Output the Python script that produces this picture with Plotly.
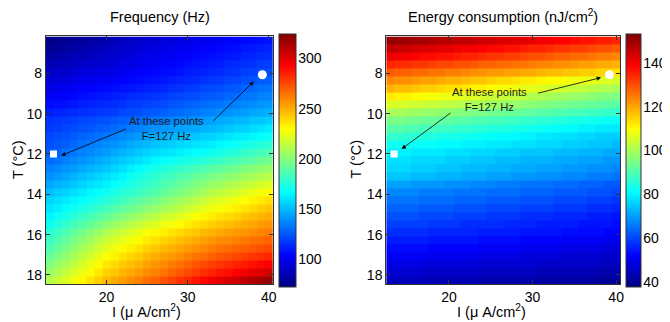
import plotly.graph_objects as go

# ---------------- data ----------------
I_vals = list(range(13, 41))  # current density, uA/cm^2 (28 columns)
T_vals = [6.37, 6.77, 7.16, 7.56, 7.96, 8.35, 8.75, 9.15, 9.54, 9.94, 10.34,
          10.73, 11.13, 11.53, 11.92, 12.32, 12.72, 13.11, 13.51, 13.91, 14.30,
          14.70, 15.10, 15.49, 15.89, 16.29, 16.68, 17.08, 17.48, 17.87, 18.27]

freq = [
    [76,78,79,81,82,84,85,87, 89,90,92,93,95,96, 97,98,99,100,101,102,103, 104,105,106,107,108,109,110],
    [80,81,83,84,86,87,89,90, 92,93,95,96,98,99, 100,101,102,103,104,105,106, 107,108,109,111,112,113,114],
    [84,85,87,88,89,90,92,93, 95,96,98,99,101,102, 103,104,105,106,107,108,109, 110,111,112,114,115,116,117],
    [88,89,90,91,93,94,95,96, 97,99,100,101,103,104, 105,106,107,109,110,111,112, 113,115,116,117,118,120,121],
    [92,93,94,95,97,98,99,100, 101,102,104,105,106,107, 108,109,110,112,113,114,115, 116,118,119,121,122,124,125],
    [96,97,98,99,101,102,103,104, 105,106,107,108,109,110, 111,113,114,115,116,118,119, 120,122,123,125,126,128,129],
    [100,101,102,103,105,106,107,108, 109,110,111,112,113,114, 115,117,118,120,121,123,124, 125,127,128,130,131,133,134],
    [104,105,106,107,109,110,111,112, 113,114,116,117,118,119, 120,122,123,124,125,127,128, 129,131,132,134,135,137,138],
    [108,109,110,111,113,114,115,116, 117,118,120,121,122,123, 124,126,127,129,130,132,133, 134,136,137,139,140,142,143],
    [113,114,115,116,117,118,119,120, 121,123,124,125,127,128, 129,131,132,134,135,137,138, 140,141,143,144,146,147,149],
    [118,119,120,121,123,124,125,126, 128,129,131,132,134,135, 136,138,139,141,142,144,145, 147,148,150,151,153,154,156],
    [120,121,123,124,126,127,129,130, 132,134,136,137,139,141, 142,144,145,146,147,149,150, 152,154,156,157,159,161,163],
    [123,125,126,128,130,132,133,135, 137,139,141,143,145,147, 148,150,151,153,154,156,157, 159,161,163,164,166,168,170],
    [125,127,129,131,134,136,138,140, 142,144,147,149,151,153, 155,156,158,159,161,162,164, 166,168,170,172,174,176,178],
    [128,130,133,135,137,139,142,144, 147,149,152,154,157,159, 161,162,164,166,168,169,171, 173,175,177,180,182,184,186],
    [132,134,137,139,142,144,147,149, 152,155,157,160,163,166, 168,170,172,173,175,177,179, 181,184,186,188,190,193,195],
    [137,139,142,144,147,149,152,154, 157,160,164,167,170,173, 175,178,180,182,184,187,189, 191,193,195,198,200,202,204],
    [141,144,146,149,152,155,157,160, 163,166,170,173,176,179, 182,184,187,189,192,194,197, 199,201,203,206,208,210,212],
    [146,149,151,154,157,160,162,165, 168,171,174,177,180,183, 186,189,192,195,198,201,204, 206,209,211,214,216,219,221],
    [152,155,157,160,163,166,168,171, 174,177,179,182,185,188, 191,195,198,201,204,208,211, 214,216,219,222,225,227,230],
    [157,160,163,166,168,171,174,177, 180,183,187,190,193,196, 199,203,206,209,212,216,219, 222,224,227,229,232,234,237],
    [161,164,168,171,174,177,181,184, 187,191,194,197,201,204, 207,210,213,217,220,223,226, 228,231,233,236,238,241,243],
    [166,170,173,177,181,185,188,192, 196,199,203,206,210,213, 216,219,222,225,228,231,234, 236,238,240,243,245,247,249],
    [171,175,180,184,188,192,197,201, 205,208,212,215,219,222, 225,227,230,233,236,238,241, 243,245,247,249,251,253,255],
    [177,182,186,191,196,201,205,210, 214,217,221,224,228,231, 233,236,238,241,243,246,248, 250,252,254,255,257,259,261],
    [182,187,192,197,202,207,212,217, 220,224,227,230,234,237, 240,242,245,247,250,252,255, 257,258,260,262,264,265,267],
    [187,192,197,202,208,213,218,223, 226,230,233,236,240,243, 246,248,251,253,256,258,261, 263,265,267,268,270,272,274],
    [193,198,203,208,214,219,224,229, 232,236,239,242,246,249, 252,254,257,260,263,265,268, 270,272,274,276,278,280,282],
    [199,204,209,214,220,225,230,235, 238,242,245,248,252,255, 258,261,264,267,270,273,276, 278,281,283,285,287,290,292],
    [205,210,215,220,225,230,235,240, 243,247,250,253,257,260, 263,267,270,273,276,280,283, 286,288,291,294,297,299,302],
    [211,216,221,226,231,236,241,246, 250,253,257,260,264,267, 271,275,279,282,286,290,294, 297,300,303,307,310,313,316],
]

energy = [
    [150,149,149,148,148,147,146,146,145,145,144,143,143,142,142,141,141,140,139,139,138,138,137,136,136,135,135,134],
    [145,144,144,143,142,142,141,141,140,139,139,138,137,137,136,136,135,134,134,133,132,132,131,131,130,129,129,128],
    [140,139,139,138,137,137,136,136,135,134,134,133,132,132,131,131,130,129,129,128,127,127,126,126,125,124,124,123],
    [134,133,133,132,132,131,130,130,129,129,128,127,127,126,126,125,125,124,123,123,122,122,121,120,120,119,119,118],
    [128,127,127,126,126,125,125,124,124,123,122,122,121,121,120,120,119,119,118,117,117,116,116,115,115,114,114,113],
    [123,122,122,121,120,120,119,118,118,117,116,116,115,114,114,113,112,112,111,110,110,109,108,108,107,106,106,105],
    [118,117,117,116,115,115,114,113,113,112,111,111,110,109,109,108,107,107,106,105,105,104,103,103,102,101,101,100],
    [112,111,111,110,109,109,108,108,107,106,106,105,104,104,103,103,102,101,101,100,99,99,98,98,97,96,96,95],
    [106,105,105,104,104,103,103,102,102,101,100,100,99,99,98,98,97,97,96,95,95,94,94,93,93,92,92,91],
    [100,100,99,99,98,98,97,97,96,96,95,95,94,94,93,93,92,92,91,91,90,90,89,89,88,88,87,87],
    [95,95,94,94,93,93,92,92,91,91,90,90,89,89,88,88,87,87,86,86,85,85,84,84,83,83,82,82],
    [91,91,90,90,89,89,88,88,87,87,86,86,85,85,85,84,84,83,83,82,82,81,81,80,80,79,79,79],
    [87,87,86,86,85,85,84,84,84,83,83,82,82,81,81,81,80,80,79,79,78,78,78,77,77,76,76,76],
    [83,83,83,82,82,82,81,81,81,80,80,80,79,79,79,78,78,78,77,77,77,76,76,76,75,75,75,74],
    [80,80,80,79,79,79,79,78,78,78,77,77,77,76,76,76,75,75,75,75,74,74,74,73,73,73,72,72],
    [78,78,78,77,77,77,77,76,76,76,75,75,75,74,74,74,73,73,73,73,72,72,72,71,71,71,70,70],
    [77,77,77,76,76,76,75,75,75,74,74,74,73,73,73,72,72,72,71,71,71,70,70,70,69,69,69,68],
    [75,75,75,74,74,74,73,73,73,72,72,72,71,71,71,70,70,70,69,69,69,68,68,68,67,67,67,66],
    [71,71,71,70,70,70,70,69,69,69,68,68,68,67,67,67,66,66,66,66,65,65,65,64,64,64,63,63],
    [68,68,68,68,67,67,67,67,66,66,66,66,65,65,65,65,64,64,64,64,63,63,63,63,62,62,62,61],
    [66,66,66,66,65,65,65,65,64,64,64,64,63,63,63,63,62,62,62,62,61,61,61,61,60,60,60,59],
    [64,64,64,64,63,63,63,63,62,62,62,62,61,61,61,61,60,60,60,60,59,59,59,59,58,58,58,57],
    [62,62,62,62,61,61,61,61,60,60,60,60,59,59,59,59,58,58,58,58,57,57,57,57,56,56,56,55],
    [60,60,60,60,60,59,59,59,59,58,58,58,58,58,57,57,57,57,56,56,56,56,56,55,55,55,55,54],
    [58,58,58,58,58,57,57,57,57,57,57,56,56,56,56,56,55,55,55,55,55,54,54,54,54,54,53,53],
    [56,56,56,56,56,55,55,55,55,55,55,54,54,54,54,54,53,53,53,53,53,52,52,52,52,52,51,51],
    [54,54,54,54,54,53,53,53,53,53,53,52,52,52,52,52,51,51,51,51,51,50,50,50,50,50,49,49],
    [52,52,52,52,52,51,51,51,51,51,51,50,50,50,50,50,49,49,49,49,49,48,48,48,48,48,47,47],
    [50,50,50,50,49,49,49,49,49,49,49,48,48,48,48,48,48,48,47,47,47,47,47,47,47,46,46,46],
    [48,48,48,48,47,47,47,47,47,47,47,46,46,46,46,46,46,46,45,45,45,45,45,45,45,44,44,44],
    [46,46,46,46,45,45,45,45,45,45,45,44,44,44,44,44,44,44,43,43,43,43,43,43,43,42,42,42],
]

freq_range = [75, 322]
energy_range = [39, 152]
freq_ticks = [100, 150, 200, 250, 300]
energy_ticks = [40, 60, 80, 100, 120, 140]
x_ticks = [20, 30, 40]
y_ticks = [8, 10, 12, 14, 16, 18]

# the two operating points with F = 127 Hz
square_I, square_T = [13.45], [12.0]
circle_I, circle_T = [39.2], [8.07]

# ---------------- styling ----------------
W, H = 670, 322
JET = [[0.0, 'rgb(0,0,128)'], [0.125, 'rgb(0,0,255)'], [0.375, 'rgb(0,255,255)'],
       [0.625, 'rgb(255,255,0)'], [0.875, 'rgb(255,0,0)'], [1.0, 'rgb(128,0,0)']]
FONT = 'Liberation Sans, Arial, Helvetica, sans-serif'
BOX = 'rgb(50,50,50)'

top_px, bot_px = 29, 281.7
ydom = [(H - bot_px) / H, (H - top_px) / H]
ymid = 1 - (top_px + bot_px) / 2 / H
x1dom = [38 / W, 266.5 / W]
x2dom = [380.5 / W, 616 / W]
cb1_left, cb1_w = 278, 17
cb2_left, cb2_w = 627, 15
CB_SHIFT = 5  # plotly draws the bar a few px right of its anchor


def cbar(xpx, thick):
    return dict(x=(xpx - CB_SHIFT) / W, xanchor='left', y=ymid, yanchor='middle',
                len=bot_px - top_px, lenmode='pixels', thickness=thick,
                thicknessmode='pixels', xpad=0, ypad=0, outlinecolor=BOX,
                outlinewidth=1, ticks='', showticklabels=False)


fig = go.Figure()
fig.add_trace(go.Heatmap(x=I_vals, y=T_vals, z=freq, colorscale=JET,
                         zmin=freq_range[0], zmax=freq_range[1],
                         colorbar=cbar(cb1_left, cb1_w),
                         xaxis='x', yaxis='y', hoverinfo='skip'))
fig.add_trace(go.Heatmap(x=I_vals, y=T_vals, z=energy, colorscale=JET,
                         zmin=energy_range[0], zmax=energy_range[1],
                         colorbar=cbar(cb2_left, cb2_w),
                         xaxis='x2', yaxis='y2', hoverinfo='skip'))

for xa, ya in (('x', 'y'), ('x2', 'y2')):
    fig.add_trace(go.Scatter(x=square_I, y=square_T, mode='markers', xaxis=xa, yaxis=ya,
                             marker=dict(symbol='square', size=7, color='white'),
                             showlegend=False, hoverinfo='skip'))
    fig.add_trace(go.Scatter(x=circle_I, y=circle_T, mode='markers', xaxis=xa, yaxis=ya,
                             marker=dict(symbol='circle', size=9, color='white'),
                             showlegend=False, hoverinfo='skip'))

# empty traces so the colour-bar scale axes get drawn
fig.add_trace(go.Scatter(x=[], y=[], xaxis='x', yaxis='y3', showlegend=False, hoverinfo='skip'))
fig.add_trace(go.Scatter(x=[], y=[], xaxis='x2', yaxis='y4', showlegend=False, hoverinfo='skip'))

tickfont = dict(family=FONT, size=14, color='black')
axis_common = dict(showline=True, linecolor=BOX, linewidth=1, mirror='ticks',
                   ticks='inside', ticklen=4, tickcolor=BOX, showgrid=False,
                   zeroline=False, tickfont=tickfont)
cb_axis = dict(domain=ydom, anchor='free', side='right', showgrid=False, zeroline=False,
               showline=False, ticks='', tickfont=tickfont, ticklabelstandoff=-3)

fig.update_layout(
    width=W, height=H, margin=dict(l=0, r=0, t=0, b=0),
    paper_bgcolor='white', plot_bgcolor='rgba(0,0,0,0)', showlegend=False,
    xaxis=dict(domain=x1dom, range=[12.5, 40.5], tickvals=x_ticks, anchor='y', **axis_common),
    yaxis=dict(domain=ydom, range=[18.47, 6.17], tickvals=y_ticks, anchor='x', **axis_common),
    xaxis2=dict(domain=x2dom, range=[12.5, 40.5], tickvals=x_ticks, anchor='y2', **axis_common),
    yaxis2=dict(domain=ydom, range=[18.47, 6.17], tickvals=y_ticks, anchor='x2', **axis_common),
    yaxis3=dict(overlaying='y', position=(cb1_left + cb1_w - 1) / W, range=freq_range,
                tickvals=freq_ticks, **cb_axis),
    yaxis4=dict(overlaying='y2', position=(cb2_left + cb2_w - 1) / W, range=energy_range,
                tickvals=energy_ticks, **cb_axis),
)

ann = []
txt = dict(family=FONT, size=14.5, color='black')
ann.append(dict(text='Frequency (Hz)', x=152.5 / W, y=1 - 9 / H, xref='paper', yref='paper',
                showarrow=False, font=txt, xanchor='center', yanchor='middle'))
ann.append(dict(text='Energy consumption (nJ/cm<sup>2</sup>)', x=497.5 / W, y=1 - 8 / H,
                xref='paper', yref='paper', showarrow=False, font=txt,
                xanchor='center', yanchor='middle'))
for cx in (139, 486):
    ann.append(dict(text='I (μ A/cm<sup>2</sup>)', x=cx / W, y=1 - 309 / H, xref='paper',
                    yref='paper', showarrow=False, font=txt, xanchor='center', yanchor='middle'))
for cx in (10, 350.5):
    ann.append(dict(text='T (°C)', x=cx / W, y=1 - 154 / H, xref='paper', yref='paper',
                    showarrow=False, font=txt, textangle=-90, xanchor='center', yanchor='middle'))

note_font = dict(family=FONT, size=11.3, color='rgb(30,30,30)')
ann.append(dict(text='At these points<br>F=127 Hz', x=27.35, y=10.75, xref='x', yref='y',
                showarrow=False, font=note_font, align='center'))
ann.append(dict(text='At these points<br>F=127 Hz', x=24.8, y=9.29, xref='x2', yref='y2',
                showarrow=False, font=note_font, align='center'))

arrows = [
    ('x', 'y', 14.4, 12.08, 22.55, 10.73),
    ('x', 'y', 38.15, 8.4, 32.97, 10.43),
    ('x2', 'y2', 38.2, 8.21, 30.48, 9.0),
    ('x2', 'y2', 14.34, 11.75, 20.37, 9.91),
]
for xr, yr, hx, hy, tx, ty in arrows:
    ann.append(dict(text='', x=hx, y=hy, ax=tx, ay=ty, xref=xr, yref=yr, axref=xr, ayref=yr,
                    showarrow=True, arrowhead=2, arrowsize=1.1, arrowwidth=0.8,
                    arrowcolor='black', standoff=0, startstandoff=0))

fig.update_layout(annotations=ann)
fig.write_html('out.html')
